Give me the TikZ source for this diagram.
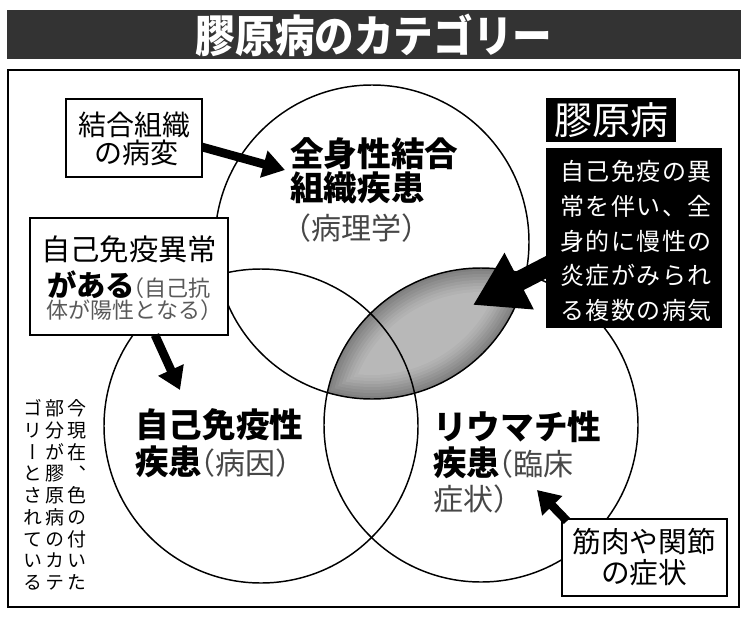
\documentclass[tikz,border=0pt]{standalone}
\usepackage{fontspec}
\usepackage{graphicx}
\setmainfont{Noto Sans CJK JP}
\newfontfamily\jpv{Noto Sans CJK JP}[RawFeature=+vert]
\newfontfamily\jpls{Noto Sans CJK JP}[LetterSpace=6]
\usetikzlibrary{arrows.meta}
\newcommand\jsz[1]{\fontsize{#1}{#1}\selectfont}
\newcommand\LP{\kern-0.55em（}
\newcommand\RP{）\kern-0.5em}
\begin{document}
\begin{tikzpicture}[x=0.75pt,y=-0.75pt,
  box/.style={draw=black, line width=1.5pt, fill=white, inner sep=0pt},
  blk/.style={fill=black, inner sep=0pt},
  venn/.style={circle, draw=black, line width=1.1pt, minimum size=235.5pt, inner sep=0pt},
  lbl/.style={inner sep=0pt, anchor=west},
  txt/.style={inner sep=0pt},
  arr/.style={line width=6.5pt, -{Triangle[width=20pt,length=16.5pt]}},
  bigarr/.style={line width=15pt, -{Triangle[width=45pt,length=39pt]}},
  sub/.style={text=black!72}
]
\useasboundingbox (0,0) rectangle (750,618);
\fill[white] (0,0) rectangle (750,618);

% title bar
\node[fill=black!80, minimum width=550.5pt, minimum height=36.75pt, inner sep=0pt] (bar) at (374,34.5) {};
\node[txt, text=white, font=\bfseries\jsz{33}] (title) at (374,35) {\scalebox{0.9}[1]{膠原病のカテゴリー}};

% frame
\node[draw=black, line width=1.8pt, minimum width=548.25pt, minimum height=402.75pt, inner sep=0pt] (frame) at (373.5,338.5) {};

% centres
\coordinate (tc) at (372,242);
\coordinate (lc) at (261,426);
\coordinate (rc) at (481,425);

% shaded lens
\begin{scope}
  \clip (tc) circle (157);
  \clip (rc) circle (157);
  \foreach \k/\c in {0/50,3/47,6/44,9/41,12/38,15/35,18/32,21/30,24/28} {
    \begin{scope}
      \clip (tc) circle ({157-\k});
      \fill[black!\c] (rc) circle ({157-\k});
    \end{scope}
  }
\end{scope}

% circles
\node[venn] (ctop) at (tc) {};
\node[venn] (cleft) at (lc) {};
\node[venn] (cright) at (rc) {};

% boxes
\node[box, minimum width=102pt, minimum height=58.5pt] (b1) at (134,138) {};
\node[box, minimum width=148.5pt, minimum height=87.75pt] (b2) at (129,276.5) {};
\node[box, minimum width=123.75pt, minimum height=57.75pt] (b4) at (644.5,557.5) {};
\node[blk, minimum width=97.5pt, minimum height=33pt] (klabel) at (611,120) {};
\node[blk, minimum width=132pt, minimum height=135pt] (kbox) at (634,238) {};

% arrows
\coordinate (a1s) at (202,147);
\coordinate (a1e) at (285,170);
\coordinate (a2s) at (155,335);
\coordinate (a2e) at (180,390);
\coordinate (a3s) at (567,521);
\coordinate (a3e) at (537,490);
\coordinate (a4s) at (560,260);
\coordinate (a4e) at (473,305);
\draw[arr] (a1s) -- (a1e);
\draw[arr] (a2s) -- (a2e);
\draw[arr] (a3s) -- (a3e);
\draw[bigarr] (a4s) -- (a4e);

% box texts
\node[txt, font=\jsz{21}] (t1a) at (134,125) {結合組織};
\node[txt, font=\jsz{21}] (t1b) at (136,153) {の病変};
\node[txt, font=\jsz{22}] (t2a) at (129,249) {自己免疫異常};
\node[txt] (t2b) at (129,285) {{\bfseries\jsz{22}がある}{\color{black!65}\jsz{16.5}\LP 自己抗}};
\node[txt, text=black!65, font=\jsz{16.5}] (t2c) at (129,310) {体が陽性となる\RP};
\node[txt, font=\jsz{21.5}] (t4a) at (644,542) {筋肉や関節};
\node[txt, font=\jsz{21.5}] (t4b) at (644,573) {の症状};

% black box texts
\node[txt, text=white, font=\jsz{28.5}] (kl) at (611,120) {膠原病};
\node[txt, text=white, align=center, font=\jpls\fontsize{18}{25.9}\selectfont] (kt) at (636,241)
  {自己免疫の異\\常を伴い、全\\身的に慢性の\\炎症がみられ\\る複数の病気};

% circle labels
\node[lbl, font=\bfseries\jsz{25.2}] (ta1) at (290,154) {全身性結合};
\node[lbl, font=\bfseries\jsz{25.2}] (ta2) at (290,188) {組織疾患};
\node[lbl, sub, font=\jsz{22.5}] (ta3) at (298,228) {\LP 病理学\RP};

\node[lbl, font=\bfseries\jsz{25.2}] (tb1) at (135,425) {自己免疫性};
\node[lbl] (tb2) at (135,462) {{\bfseries\jsz{25.2}疾患}{\color{black!72}\jsz{22.5}\LP 病因\RP}};

\node[lbl, font=\bfseries\jsz{25.2}] (tc1) at (433,427) {リウマチ性};
\node[lbl] (tc2) at (433,463) {{\bfseries\jsz{25.2}疾患}{\color{black!72}\jsz{22.5}\LP 臨床}};
\node[lbl, sub, font=\jsz{22.5}] (tc3) at (433,499) {症状\RP};

% vertical note
\node[txt, align=center, font=\jpv\fontsize{14.25}{16.3}\selectfont] (v1) at (77,495)
  {今\\現\\在\\、\\色\\の\\付\\い\\た};
\node[txt, align=center, font=\jpv\fontsize{14.25}{16.3}\selectfont] (v2) at (55,495)
  {部\\分\\が\\膠\\原\\病\\の\\カ\\テ};
\node[txt, align=center, font=\jpv\fontsize{14.25}{16.3}\selectfont] (v3) at (33,495)
  {ゴ\\リ\\ー\\と\\さ\\れ\\て\\い\\る};
\end{tikzpicture}
\end{document}
